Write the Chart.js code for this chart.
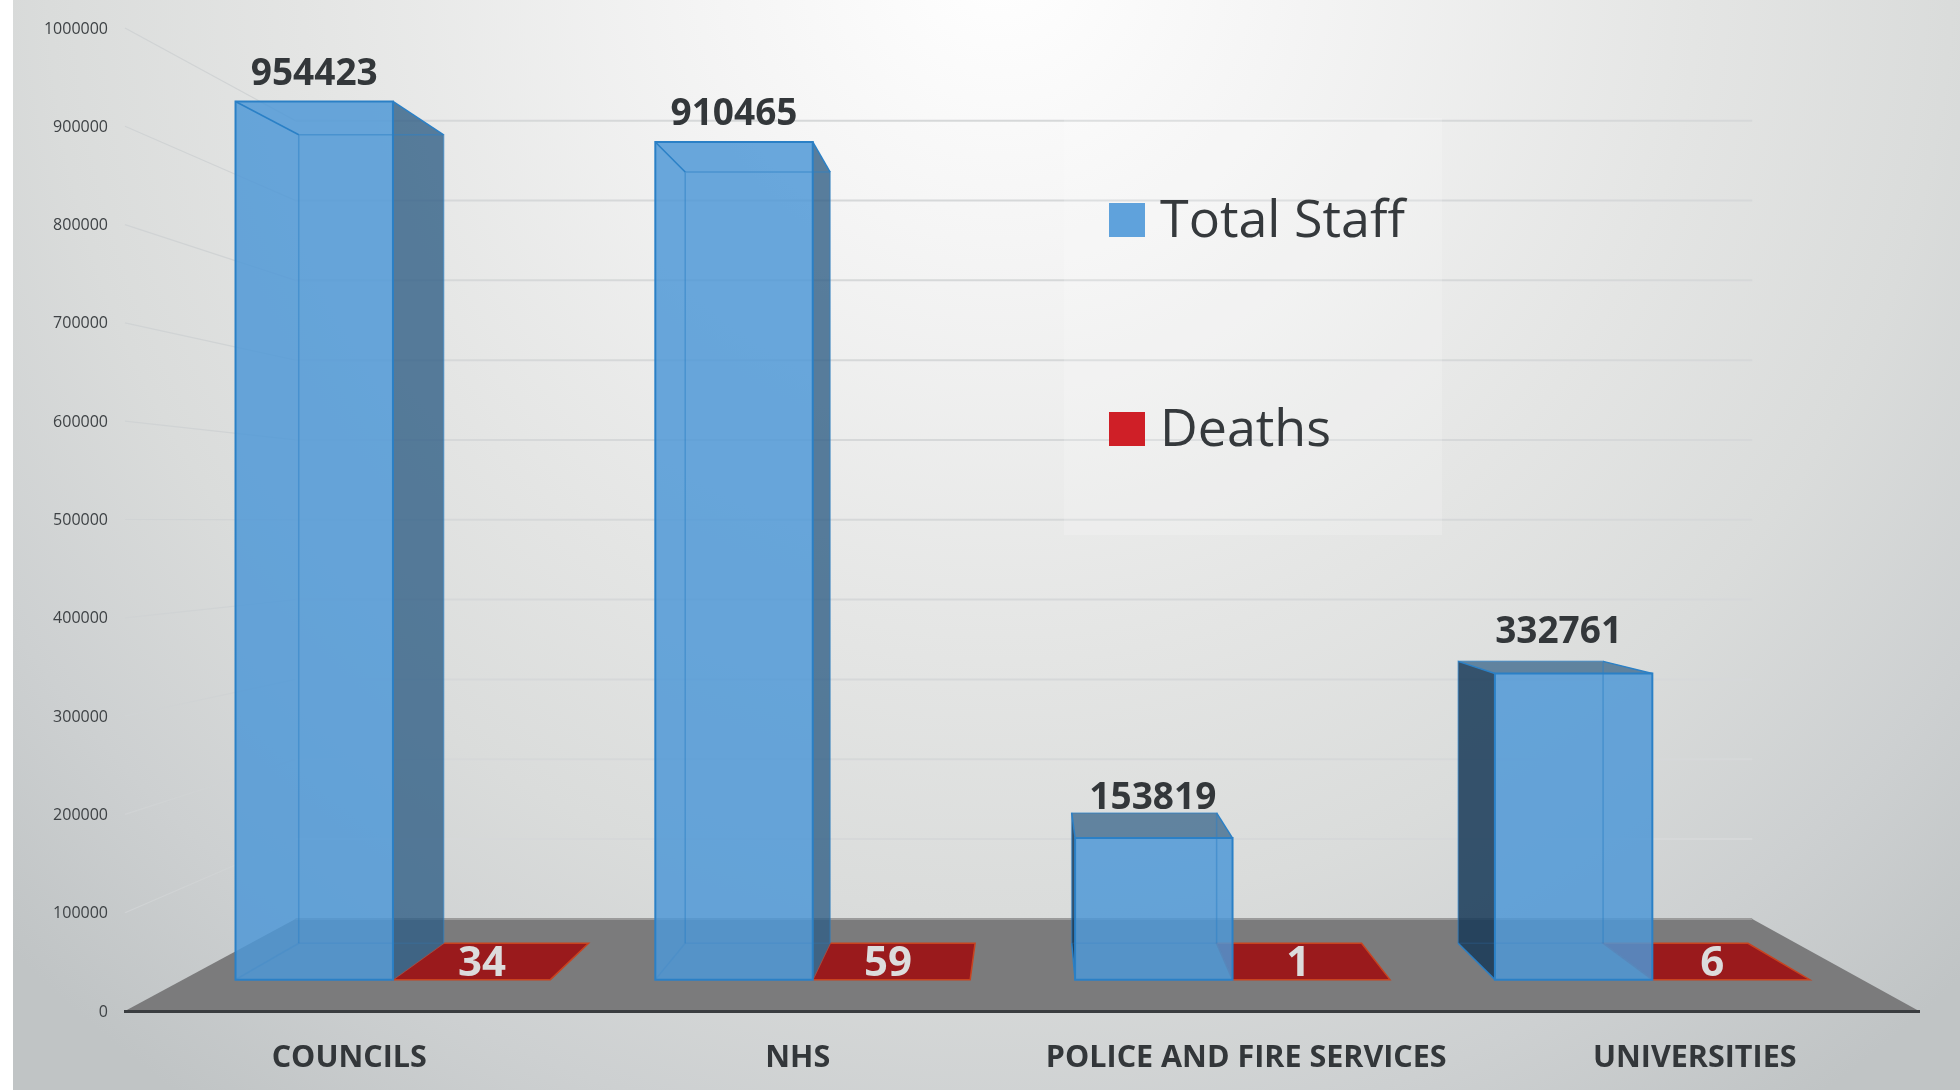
<!DOCTYPE html>
<html>
<head>
<meta charset="utf-8">
<title>Staff and deaths</title>
<script src="https://cdn.jsdelivr.net/npm/chart.js@4/dist/chart.umd.min.js"></script>
<style>
  html, body { margin: 0; padding: 0; background: #fff; }
  canvas { display: block; }
</style>
</head>
<body>
<canvas id="myChart" width="1960" height="1090"></canvas>
<script>
const categories = ['COUNCILS', 'NHS', 'POLICE AND FIRE SERVICES', 'UNIVERSITIES']
const totalStaff = [954423, 910465, 153819, 332761]
const deaths = [34, 59, 1, 6]
const tickValues = [0, 100000, 200000, 300000, 400000, 500000, 600000, 700000, 800000, 900000, 1000000]

// the picture is a 3d column chart, so everything goes through one perspective
const FONT = '"Open Sans", sans-serif'
const VX = 1032, VY = 521
const FRONT = 0.936, BACK = 0.8617, WALL = 0.812
const project = (x, y, r) => [VX + (x - VX) * r, VY + (y - VY) * r]

// label nudges, the source placed these by hand
const staffNudge = [[0, -27], [0, -27], [-1, -14], [-15, -29]]
const deathNudge = [[-12, 3], [-9, 3], [-2, 3], [9, 3]]

function poly(ctx, pts, fill, stroke, lw) {
  ctx.beginPath()
  pts.forEach((p, i) => i ? ctx.lineTo(p[0], p[1]) : ctx.moveTo(p[0], p[1]))
  ctx.closePath()
  if (fill) { ctx.fillStyle = fill; ctx.fill() }
  if (stroke) { ctx.strokeStyle = stroke; ctx.lineWidth = lw || 1; ctx.stroke() }
}

function corners(bar) {
  const l = bar.x - bar.width / 2, r = bar.x + bar.width / 2
  return {
    fr: [project(l, bar.y, FRONT), project(r, bar.y, FRONT), project(r, bar.base, FRONT), project(l, bar.base, FRONT)],
    bk: [project(l, bar.y, BACK), project(r, bar.y, BACK), project(r, bar.base, BACK), project(l, bar.base, BACK)]
  }
}

function drawColumn(ctx, bar) {
  const { fr, bk } = corners(bar)
  const edge = '#2b80c6', inner = 'rgba(43,128,198,0.5)', faint = 'rgba(43,128,198,0.18)'
  const leftShows = bk[0][0] < fr[0][0]

  // side that shows outside of the front face
  if (bk[1][0] > fr[1][0]) {
    poly(ctx, [fr[1], bk[1], bk[2], fr[2]], 'rgba(49,95,134,0.8)')
  }
  if (leftShows) {
    poly(ctx, [fr[0], bk[0], bk[3], fr[3]], 'rgba(24,58,88,0.86)')
  }
  // top only shows when it is below eye level
  if (bk[0][1] < fr[0][1]) {
    poly(ctx, [fr[0], fr[1], bk[1], bk[0]], 'rgba(49,95,134,0.72)')
  }
  poly(ctx, fr, 'rgba(78,151,214,0.84)')

  // back frame, bottom edge barely shows through
  ctx.lineWidth = 1.5
  ctx.strokeStyle = inner
  ctx.beginPath()
  ctx.moveTo(bk[3][0], bk[3][1])
  ctx.lineTo(bk[0][0], bk[0][1])
  ctx.lineTo(bk[1][0], bk[1][1])
  ctx.lineTo(bk[2][0], bk[2][1])
  ctx.stroke()
  ctx.strokeStyle = faint
  ctx.beginPath()
  ctx.moveTo(bk[3][0], bk[3][1])
  ctx.lineTo(bk[2][0], bk[2][1])
  ctx.stroke()

  for (let i = 0; i < 4; i++) {
    ctx.beginPath()
    ctx.moveTo(fr[i][0], fr[i][1])
    ctx.lineTo(bk[i][0], bk[i][1])
    ctx.strokeStyle = i < 2 ? edge : (i == 3 && leftShows ? edge : faint)
    ctx.lineWidth = 1.5
    ctx.stroke()
  }
  poly(ctx, fr, null, edge, 2)
}

function drawPlate(ctx, bar) {
  const { fr, bk } = corners(bar)
  poly(ctx, [fr[3], fr[2], bk[2], bk[3]], '#9a1a1c', '#c9431f', 1.5)
}

const scenePlugin = {
  id: 'scene',
  beforeDraw(chart) {
    const ctx = chart.ctx
    const bg = ctx.createRadialGradient(1000, -40, 0, 1000, -40, 1400)
    bg.addColorStop(0, '#ffffff')
    bg.addColorStop(0.2, '#f5f5f5')
    bg.addColorStop(0.5, '#e4e5e4')
    bg.addColorStop(0.68, '#dadcdb')
    bg.addColorStop(0.85, '#cdd0d1')
    bg.addColorStop(1, '#c0c4c5')
    ctx.fillStyle = bg
    ctx.fillRect(13, 0, chart.width - 13, chart.height)
  },
  beforeDatasetsDraw(chart) {
    const ctx = chart.ctx
    const { left, right } = chart.chartArea
    const y = chart.scales.y
    const y0 = y.getPixelForValue(0)

    // walls
    tickValues.forEach(v => {
      if (v == 0) return
      const py = y.getPixelForValue(v)
      const a = project(left, py, 1), b = project(left, py, WALL), c = project(right, py, WALL)
      ctx.beginPath()
      ctx.moveTo(a[0], a[1])
      ctx.lineTo(b[0], b[1])
      ctx.strokeStyle = '#d0d3d4'
      ctx.lineWidth = 1.2
      ctx.stroke()
      ctx.beginPath()
      ctx.moveTo(b[0], b[1])
      ctx.lineTo(c[0], c[1])
      ctx.strokeStyle = '#d6d8d9'
      ctx.lineWidth = 2
      ctx.stroke()
    })

    // floor
    poly(ctx, [project(left, y0, 1), project(right, y0, 1), project(right, y0, WALL), project(left, y0, WALL)], '#7b7b7c')
    const fa = project(left, y0, WALL), fb = project(right, y0, WALL)
    ctx.beginPath()
    ctx.moveTo(fa[0], fa[1])
    ctx.lineTo(fb[0], fb[1])
    ctx.strokeStyle = '#9b9b9b'
    ctx.lineWidth = 2
    ctx.stroke()

    // legend panel
    ctx.fillStyle = 'rgba(255,255,255,0.18)'
    ctx.fillRect(1064, 118, 378, 417)

    // red plates first so that they show through the columns
    chart.getDatasetMeta(1).data.forEach(bar => drawPlate(ctx, bar))
    chart.getDatasetMeta(0).data.forEach(bar => drawColumn(ctx, bar))

    // value labels
    ctx.textAlign = 'center'
    ctx.textBaseline = 'middle'
    ctx.font = 'bold 37px ' + FONT
    ctx.fillStyle = '#33373a'
    chart.getDatasetMeta(0).data.forEach((bar, i) => {
      const { fr, bk } = corners(bar)
      const cx = (fr[0][0] + fr[1][0]) / 2
      const top = Math.min(fr[0][1], bk[0][1])
      ctx.fillText(totalStaff[i], cx + staffNudge[i][0], top + staffNudge[i][1])
    })
    ctx.font = 'bold 42px ' + FONT
    ctx.fillStyle = '#dcdcdc'
    chart.getDatasetMeta(1).data.forEach((bar, i) => {
      const { fr, bk } = corners(bar)
      const cx = (fr[2][0] + fr[3][0] + bk[2][0] + bk[3][0]) / 4
      const cy = (fr[2][1] + bk[2][1]) / 2
      ctx.fillText(deaths[i], cx + deathNudge[i][0], cy + deathNudge[i][1])
    })

    // legend
    ctx.textAlign = 'left'
    ctx.font = '52px ' + FONT
    chart.data.datasets.forEach((ds, i) => {
      const rowY = i == 0 ? 220 : 429
      ctx.fillStyle = ds.legendColor
      ctx.fillRect(1109, rowY - 17, 36, 34)
      ctx.fillStyle = '#35393c'
      ctx.fillText(ds.label, 1160, rowY + 2)
    })

    return false
  }
}

new Chart(document.getElementById('myChart'), {
  type: 'bar',
  data: {
    labels: categories,
    datasets: [
      { label: 'Total Staff', data: totalStaff, backgroundColor: 'rgba(78,151,214,0.84)', legendColor: '#5fa2dc' },
      { label: 'Deaths', data: deaths, backgroundColor: '#9a1a1c', legendColor: '#cf1f27' }
    ]
  },
  options: {
    responsive: false,
    animation: false,
    layout: { padding: { top: 28, right: 41, bottom: 0, left: 0 } },
    plugins: { legend: { display: false }, tooltip: { enabled: false } },
    datasets: { bar: { categoryPercentage: 0.75, barPercentage: 1 } },
    scales: {
      x: {
        grid: { display: false },
        border: { color: '#3a3d40', width: 3, z: 1 },
        ticks: { color: '#33373a', font: { family: FONT, size: 30.5, weight: 'bold' }, padding: 21, maxRotation: 0, autoSkip: false },
        afterFit(scale) { scale.height = 79 }
      },
      y: {
        min: 0,
        max: 1000000,
        grid: { display: false, drawTicks: false },
        border: { display: false },
        afterBuildTicks(scale) { scale.ticks = tickValues.map(v => ({ value: v })) },
        ticks: { color: '#3e4245', font: { family: FONT, size: 16 }, padding: 17, labelOffset: 1, autoSkip: false, callback: v => String(v) },
        afterFit(scale) { scale.width = 125 }
      }
    }
  },
  plugins: [scenePlugin]
})
</script>
</body>
</html>
